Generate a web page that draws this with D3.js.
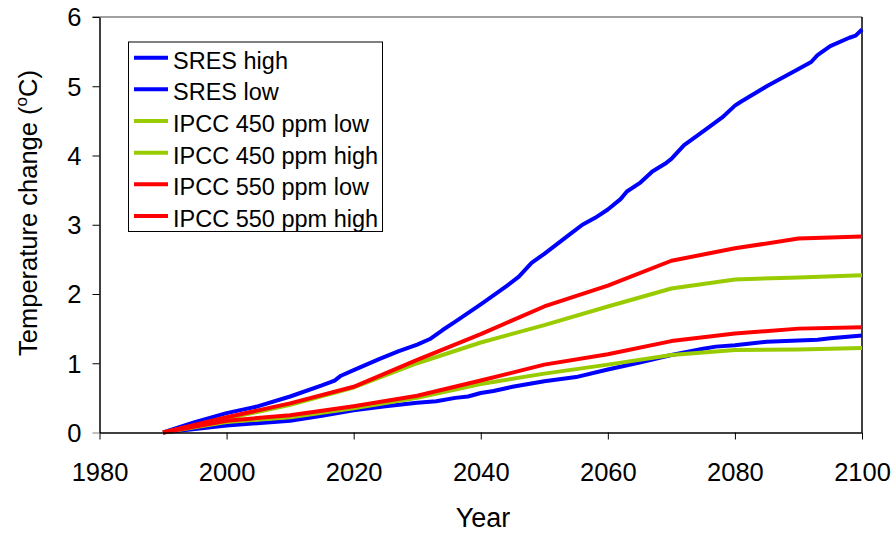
<!DOCTYPE html>
<html>
<head>
<meta charset="utf-8">
<script src="https://cdn.jsdelivr.net/npm/d3@7/dist/d3.min.js"></script>
<style>
  body { margin: 0; background: #fff; }
  text { font-family: Arial, "Liberation Sans", sans-serif; fill: #000; }
</style>
</head>
<body>
<script>
// data
const sresHighYears = [1990, 1995, 2000, 2005, 2010, 2015, 2017, 2018, 2020, 2024, 2027, 2030, 2032, 2034, 2036, 2040, 2044, 2046, 2048, 2050, 2052, 2054, 2056, 2058, 2060, 2062, 2063, 2065, 2067, 2069, 2070, 2072, 2075, 2078, 2080, 2081, 2085, 2090, 2092, 2093, 2095, 2098, 2099, 2100];
const sresHigh = [0, 0.15, 0.28, 0.38, 0.52, 0.68, 0.75, 0.82, 0.9, 1.06, 1.17, 1.27, 1.35, 1.48, 1.6, 1.85, 2.11, 2.25, 2.45, 2.58, 2.72, 2.86, 3.0, 3.1, 3.22, 3.37, 3.48, 3.6, 3.77, 3.88, 3.95, 4.15, 4.35, 4.55, 4.72, 4.78, 5.0, 5.25, 5.35, 5.45, 5.58, 5.7, 5.73, 5.82];

const sresLowYears = [1990, 2000, 2010, 2015, 2020, 2025, 2030, 2033, 2036, 2038, 2040, 2042, 2045, 2050, 2055, 2060, 2065, 2070, 2075, 2077, 2080, 2085, 2090, 2093, 2095, 2100];
const sresLow = [0, 0.1, 0.17, 0.24, 0.32, 0.38, 0.43, 0.45, 0.5, 0.52, 0.57, 0.6, 0.66, 0.74, 0.8, 0.91, 1.01, 1.12, 1.21, 1.24, 1.26, 1.31, 1.33, 1.34, 1.36, 1.4];

const ipccYears = [1990, 2000, 2010, 2020, 2030, 2040, 2050, 2060, 2070, 2080, 2090, 2100];
const ipcc450Low = [0, 0.15, 0.22, 0.35, 0.5, 0.7, 0.85, 0.98, 1.12, 1.19, 1.2, 1.22];
const ipcc450High = [0, 0.2, 0.4, 0.65, 1.0, 1.3, 1.55, 1.82, 2.08, 2.21, 2.24, 2.27];
const ipcc550Low = [0, 0.17, 0.25, 0.38, 0.53, 0.75, 0.98, 1.13, 1.32, 1.43, 1.5, 1.52];
const ipcc550High = [0, 0.22, 0.42, 0.66, 1.05, 1.42, 1.82, 2.12, 2.48, 2.66, 2.8, 2.83];

const xTicks = [1980, 2000, 2020, 2040, 2060, 2080, 2100];
const yTicks = [0, 1, 2, 3, 4, 5, 6];

const series = [
  { name: "SRES high", years: sresHighYears, values: sresHigh, color: "#0000ff" },
  { name: "SRES low", years: sresLowYears, values: sresLow, color: "#0000ff" },
  { name: "IPCC 450 ppm low", years: ipccYears, values: ipcc450Low, color: "#99cc00" },
  { name: "IPCC 450 ppm high", years: ipccYears, values: ipcc450High, color: "#99cc00" },
  { name: "IPCC 550 ppm low", years: ipccYears, values: ipcc550Low, color: "#ff0000" },
  { name: "IPCC 550 ppm high", years: ipccYears, values: ipcc550High, color: "#ff0000" }
];

const W = 896, H = 535;
const plotL = 99.5, plotR = 862, plotT = 17, plotB = 432.5;

const svg = d3.select("body").append("svg")
  .attr("width", W)
  .attr("height", H);

const x = d3.scaleLinear().domain([1980, 2100]).range([plotL, plotR]);
const y = d3.scaleLinear().domain([0, 6]).range([plotB, plotT]);

// plot frame: top grey, right black
svg.append("line")
  .attr("x1", plotL - 7).attr("x2", plotR)
  .attr("y1", plotT).attr("y2", plotT)
  .attr("stroke", "#808080").attr("stroke-width", 1.5);
svg.append("line")
  .attr("x1", plotR).attr("x2", plotR)
  .attr("y1", plotT).attr("y2", plotB)
  .attr("stroke", "#000").attr("stroke-width", 1.5);

// lines
const line = d3.line().x(d => x(d[0])).y(d => y(d[1]));
svg.append("g").selectAll("path")
  .data(series)
  .join("path")
  .attr("d", s => line(s.years.map((yr, i) => [yr, s.values[i]])))
  .attr("fill", "none")
  .attr("stroke", s => s.color)
  .attr("stroke-width", 4)
  .attr("stroke-linejoin", "round");

// axes
const xAxis = d3.axisBottom(x).tickValues(xTicks).tickFormat(d3.format("d")).tickSize(7).tickSizeOuter(0);
const gx = svg.append("g").attr("transform", `translate(0,${plotB})`).call(xAxis);
gx.select(".domain").attr("stroke", "#000").attr("stroke-width", 1.5);
gx.selectAll(".tick line").attr("stroke", "#000").attr("stroke-width", 1);
gx.selectAll(".tick text")
  .attr("font-size", 25.5).attr("font-family", "Arial, 'Liberation Sans', sans-serif")
  .attr("dy", null).attr("y", 48);

const yAxis = d3.axisLeft(y).tickValues(yTicks).tickFormat(d3.format("d")).tickSize(7).tickSizeOuter(0);
const gy = svg.append("g").attr("transform", `translate(${plotL},0)`).call(yAxis);
gy.select(".domain").attr("stroke", "#000").attr("stroke-width", 1.5);
gy.selectAll(".tick line").attr("stroke", "#000").attr("stroke-width", 1);
gy.select(".tick line").attr("stroke", "#808080");
gy.selectAll(".tick text")
  .attr("font-size", 25.5).attr("font-family", "Arial, 'Liberation Sans', sans-serif")
  .attr("x", -18).attr("dy", "0.35em");

// axis titles
svg.append("text")
  .attr("x", 483).attr("y", 527)
  .attr("text-anchor", "middle")
  .attr("font-size", 27)
  .text("Year");

const yt = svg.append("text")
  .attr("transform", "translate(37,213) rotate(-90)")
  .attr("text-anchor", "middle")
  .attr("font-size", 25.5);
yt.append("tspan").text("Temperature change (");
yt.append("tspan").attr("font-size", 17).attr("dy", -10).text("o");
yt.append("tspan").attr("dy", 10).text("C)");

// legend
const legend = svg.append("g");
legend.append("rect")
  .attr("x", 128.5).attr("y", 42)
  .attr("width", 254).attr("height", 189.5)
  .attr("fill", "#fff").attr("stroke", "#000").attr("stroke-width", 1);
const item = legend.selectAll("g.item")
  .data(series)
  .join("g")
  .attr("class", "item")
  .attr("transform", (d, i) => `translate(0,${57.7 + i * 31.65})`);
item.append("line")
  .attr("x1", 134).attr("x2", 168)
  .attr("stroke", d => d.color).attr("stroke-width", 4);
item.append("text")
  .attr("x", 173).attr("y", 11)
  .attr("font-size", 23.5)
  .text(d => d.name);
</script>
</body>
</html>
